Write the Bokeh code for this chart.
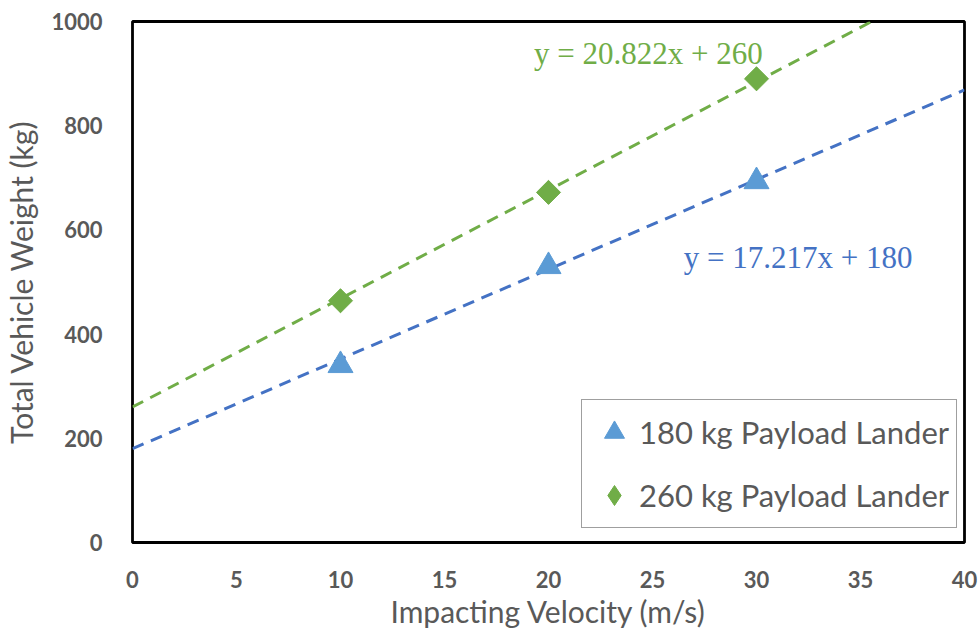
from bokeh.plotting import figure
from bokeh.models import Range1d, FixedTicker, Legend, LegendItem, Label, ColumnDataSource
from bokeh.embed import file_html
from bokeh.resources import INLINE
import numpy as np

# ---- data ----
velocity = [10, 20, 30]
weight_180 = [340, 530, 693]
weight_260 = [464, 672, 890]
slope_180, intercept_180 = 17.217, 180
slope_260, intercept_260 = 20.822, 260
x_ticks = [0, 5, 10, 15, 20, 25, 30, 35, 40]
y_ticks = [0, 200, 400, 600, 800, 1000]
series_names = ["180 kg Payload Lander", "260 kg Payload Lander"]
eq_180 = "y = 17.217x + 180"
eq_260 = "y = 20.822x + 260"

X_MAX, Y_MAX = 40, 1000

p = figure(width=979, height=642, output_backend="svg", toolbar_location=None,
           x_range=Range1d(0, X_MAX), y_range=Range1d(0, Y_MAX),
           min_border_left=130, min_border_right=15, min_border_top=21, min_border_bottom=100)

p.background_fill_color = "white"
p.border_fill_color = "white"
p.outline_line_color = "black"
p.outline_line_width = 2.8
p.xgrid.visible = False
p.ygrid.visible = False

for ax in (p.xaxis[0], p.yaxis[0]):
    ax.axis_line_color = None
    ax.major_tick_line_color = None
    ax.minor_tick_line_color = None
    ax.major_label_text_font = "Lato"
    ax.major_label_text_font_style = "bold"
    ax.major_label_text_font_size = "22px"
    ax.major_label_text_color = "#595959"
    ax.axis_label_text_font = "Lato"
    ax.axis_label_text_font_style = "normal"
    ax.axis_label_text_font_size = "30px"
    ax.axis_label_text_color = "#595959"

p.xaxis.ticker = FixedTicker(ticks=x_ticks)
p.yaxis.ticker = FixedTicker(ticks=y_ticks)
p.xaxis.major_label_standoff = 22
p.yaxis.major_label_standoff = 24
p.xaxis.axis_label = "Impacting Velocity (m/s)"
p.yaxis.axis_label = "Total Vehicle Weight (kg)"
p.xaxis.axis_label_standoff = 2
p.yaxis.axis_label_standoff = 9

# trend lines (dashed), computed from regression coefficients
x_end_260 = (Y_MAX - intercept_260) / slope_260
tx_180 = [0, X_MAX]
ty_180 = [intercept_180 + slope_180 * v for v in tx_180]
tx_260 = [0, x_end_260]
ty_260 = [intercept_260 + slope_260 * v for v in tx_260]
p.line(tx_180, ty_180, line_color="#4472C4", line_width=3, line_dash="12 8")
p.line(tx_260, ty_260, line_color="#70AD47", line_width=3, line_dash="12 8")

src = ColumnDataSource(dict(v=velocity, w180=weight_180, w260=weight_260))
r180 = p.scatter("v", "w180", source=src, marker="triangle", size=25,
                 fill_color="#5B9BD5", line_color="#5B9BD5")
# diamond used for the legend glyph, hidden beneath the rotated square
leg260 = p.scatter("v", "w260", source=src, marker="diamond", size=23,
                   fill_color="#70AD47", line_color="#70AD47")
r260 = p.scatter("v", "w260", source=src, marker="square", size=17, angle=np.pi / 4,
                 fill_color="#70AD47", line_color="#70AD47")

legend = Legend(items=[LegendItem(label=series_names[0], renderers=[r180]),
                       LegendItem(label=series_names[1], renderers=[leg260])],
                location=(449, 14), orientation="vertical",
                glyph_width=50, glyph_height=50, label_height=50, spacing=13,
                padding=7, margin=0, label_standoff=0,
                label_text_font="Lato", label_text_font_size="31px",
                label_text_color="#595959",
                border_line_color="#404040", border_line_width=1.5,
                background_fill_color="white", background_fill_alpha=1.0)
p.add_layout(legend, "center")

p.add_layout(Label(x=19.3, y=938, text=eq_260, text_font="Liberation Serif",
                   text_font_size="31px", text_color="#70AD47", text_baseline="alphabetic"))
p.add_layout(Label(x=26.5, y=547, text=eq_180, text_font="Liberation Serif",
                   text_font_size="31px", text_color="#4472C4", text_baseline="alphabetic"))

open("out.html", "w").write(file_html(p, INLINE))
